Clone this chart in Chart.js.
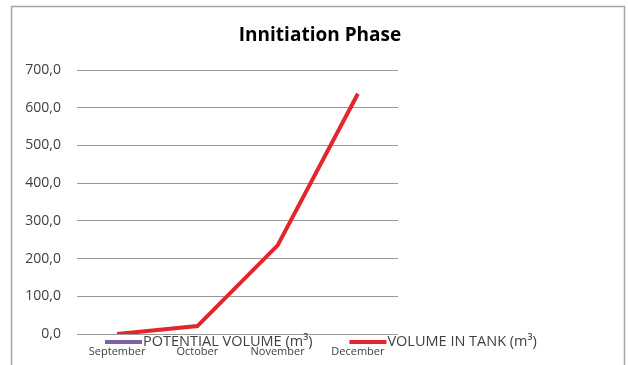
<!DOCTYPE html>
<html>
<head>
<meta charset="utf-8">
<script src="https://cdn.jsdelivr.net/npm/chart.js@4"></script>
<style>
  html, body { margin: 0; padding: 0; background: #fff; }
  #wrap { width: 628px; height: 365px; position: relative; }
</style>
</head>
<body>
<div id="wrap"><canvas id="c" width="628" height="365"></canvas></div>
<script>
// Monthly tank volumes for the initiation phase
const months = ['September', 'October', 'November', 'December'];
const potentialVolume = [null, null, null, null];
const volumeInTank = [0, 21, 235, 637];
const yTickValues = [0, 100, 200, 300, 400, 500, 600, 700];

const FONT = 'Open Sans';

// Outer frame around the chart
const framePlugin = {
  id: 'frame',
  beforeDraw(chart) {
    const ctx = chart.ctx;
    ctx.save();
    ctx.fillStyle = '#fff';
    ctx.fillRect(0, 0, chart.width, chart.height);
    ctx.strokeStyle = '#a6a6a6';
    ctx.lineWidth = 1.5;
    ctx.strokeRect(11.5, 6.5, 613, 400);
    ctx.restore();
  }
};

// Legend drawn as a row of line samples with their labels
const lineLegend = {
  id: 'lineLegend',
  afterDraw(chart) {
    const ctx = chart.ctx;
    ctx.save();
    ctx.font = '14.5px "' + FONT + '"';
    ctx.textBaseline = 'middle';
    ctx.textAlign = 'left';
    let x = 105;
    const y = 342;
    chart.data.datasets.forEach(ds => {
      ctx.strokeStyle = ds.borderColor;
      ctx.lineWidth = 4;
      ctx.beginPath();
      ctx.moveTo(x, y);
      ctx.lineTo(x + 37, y);
      ctx.stroke();
      x += 38;
      ctx.fillStyle = '#404040';
      ctx.fillText(ds.label, x, y);
      x += ctx.measureText(ds.label).width + 37;
    });
    ctx.restore();
  }
};

new Chart(document.getElementById('c'), {
  type: 'line',
  data: {
    labels: months,
    datasets: [
      {
        label: 'POTENTIAL VOLUME (m³)',
        data: potentialVolume,
        borderColor: '#7e62a8',
        borderWidth: 4,
        pointRadius: 0,
        tension: 0
      },
      {
        label: 'VOLUME IN TANK (m³)',
        data: volumeInTank,
        borderColor: '#e3262c',
        borderWidth: 4,
        pointRadius: 0,
        tension: 0
      }
    ]
  },
  options: {
    responsive: false,
    animation: false,
    layout: { padding: { left: 12, right: 0, top: 0, bottom: 0 } },
    plugins: {
      legend: { display: false },
      tooltip: { enabled: false },
      title: {
        display: true,
        text: 'Innitiation Phase',
        color: '#000',
        font: { family: FONT, size: 19, weight: 'bold', lineHeight: 1.2 },
        padding: { top: 24, bottom: 23.2 }
      }
    },
    scales: {
      x: {
        offset: true,
        grid: { display: false, drawTicks: false },
        border: { display: false },
        ticks: {
          color: '#404040',
          font: { family: FONT, size: 11 },
          padding: 11,
          maxRotation: 0
        },
        afterFit(scale) { scale.height = 31; }
      },
      y: {
        min: 0,
        max: 700,
        afterBuildTicks(scale) {
          scale.ticks = yTickValues.map(v => ({ value: v }));
        },
        grid: { color: '#999', lineWidth: 1, drawTicks: false },
        border: { display: false },
        ticks: {
          color: '#404040',
          font: { family: FONT, size: 14 },
          padding: 16,
          callback: v => v.toFixed(1).replace('.', ',')
        },
        afterFit(scale) { scale.width = 65; }
      },
      // empty right-hand column that keeps the plot narrow
      spacer: {
        type: 'linear',
        position: 'right',
        display: true,
        grid: { display: false, drawTicks: false },
        border: { display: false },
        ticks: { display: false },
        afterFit(scale) { scale.width = 230; }
      }
    }
  },
  plugins: [framePlugin, lineLegend]
});
</script>
</body>
</html>
